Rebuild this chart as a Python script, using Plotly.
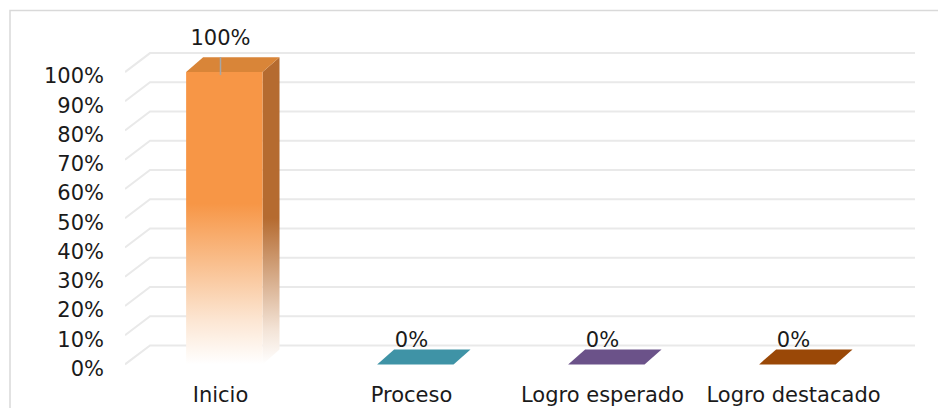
import plotly.graph_objects as go

# ---- data ----
categories = ["Inicio", "Proceso", "Logro esperado", "Logro destacado"]
values = [100, 0, 0, 0]
value_labels = ["100%", "0%", "0%", "0%"]
y_ticks = [0, 10, 20, 30, 40, 50, 60, 70, 80, 90, 100]
y_tick_labels = ["0%", "10%", "20%", "30%", "40%", "50%", "60%", "70%", "80%", "90%", "100%"]

# ---- styles ----
front_colors = ["#F79646", "#4096A9", "#6E548D", "#9C4A06"]
side_colors = ["#B56B30", "#2F7282", "#54406B", "#763804"]
top_colors = ["#D98538", "#3F93A6", "#6B5289", "#9A4807"]
FONT = "Verdana, DejaVu Sans, sans-serif"
TXT = "#1a1a1a"
FS = 21

X_MIN, X_MAX = -0.5, 3.636
Y_MIN, Y_MAX = -5, 112
GRID_DX, GRID_DY = 0.131, 6.5     # depth of back wall (axis units)
BAR_DX, BAR_DY = 0.089, 5.1       # depth of bars (axis units)
BAR_HW, BAR_OFF = 0.2, 0.02

fig = go.Figure()

# back-wall gridlines with a 3D diagonal at the left
for t in y_ticks:
    fig.add_trace(go.Scatter(
        x=[X_MIN, X_MIN + GRID_DX, X_MAX - 0.0001],
        y=[t, t + GRID_DY, t + GRID_DY],
        mode="lines", line=dict(color="#E9E9E9", width=2),
        hoverinfo="skip", showlegend=False))

# bars
for i, (c, v) in enumerate(zip(categories, values)):
    xl = i + BAR_OFF - BAR_HW
    xr = i + BAR_OFF + BAR_HW
    if v > 0:
        # side face
        fig.add_trace(go.Scatter(
            x=[xr, xr + BAR_DX, xr + BAR_DX, xr, xr],
            y=[0, BAR_DY, v + BAR_DY, v, 0],
            fill="toself", mode="lines", line=dict(width=0),
            fillgradient=dict(type="vertical", start=0, stop=v,
                              colorscale=[[0, "#FFFFFF"], [0.12, "#F3E3D6"],
                                          [0.5, side_colors[i]], [1, side_colors[i]]]),
            hoverinfo="skip", showlegend=False))
        # front face
        fig.add_trace(go.Scatter(
            x=[xl, xr, xr, xl, xl],
            y=[0, 0, v, v, 0],
            fill="toself", mode="lines", line=dict(width=0),
            fillgradient=dict(type="vertical", start=0, stop=v,
                              colorscale=[[0, "#FFFFFF"], [0.15, "#FCE6D3"],
                                          [0.35, "#F9BE8C"], [0.55, front_colors[i]],
                                          [1, front_colors[i]]]),
            hoverinfo="skip", showlegend=False))
    # top face
    fig.add_trace(go.Scatter(
        x=[xl, xr, xr + BAR_DX, xl + BAR_DX, xl],
        y=[v, v, v + BAR_DY, v + BAR_DY, v],
        fill="toself", mode="lines", line=dict(width=0),
        fillcolor=top_colors[i],
        hoverinfo="skip", showlegend=False))

# leader lines for nonzero labels
for i, v in enumerate(values):
    if v > 0:
        fig.add_trace(go.Scatter(
            x=[i, i], y=[v - 1, v + BAR_DY],
            mode="lines", line=dict(color="#A6A6A6", width=1.5),
            hoverinfo="skip", showlegend=False))

# data labels
fig.add_trace(go.Scatter(
    x=list(range(len(categories))),
    y=[v + 7.9 + 0.0305 * v for v in values],
    mode="text", text=value_labels, textposition="middle center",
    textfont=dict(family=FONT, size=FS, color=TXT), cliponaxis=False,
    hoverinfo="skip", showlegend=False))

fig.update_layout(
    width=938, height=408,
    margin=dict(l=125, r=23, t=37, b=29, autoexpand=False),
    paper_bgcolor="white", plot_bgcolor="white",
    showlegend=False,
    xaxis=dict(range=[X_MIN, X_MAX], tickmode="array", automargin=False,
               tickvals=list(range(len(categories))), ticktext=categories,
               showgrid=False, zeroline=False, showline=False, ticks="",
               tickfont=dict(family=FONT, size=FS, color=TXT),
               ticklabelstandoff=1, fixedrange=True),
    yaxis=dict(range=[Y_MIN, Y_MAX], tickmode="array", automargin=False,
               tickvals=y_ticks, ticktext=y_tick_labels,
               showgrid=False, zeroline=False, showline=False, ticks="",
               tickfont=dict(family=FONT, size=FS, color=TXT),
               ticklabelstandoff=20, ticklabelshift=4, fixedrange=True),
    shapes=[dict(type="rect", xref="paper", yref="paper",
                 x0=(10 - 125) / 790, x1=(945 - 125) / 790,
                 y0=(379 - 420) / 342, y1=(379 - 10.5) / 342,
                 line=dict(color="#D9D9D9", width=1.5), fillcolor="rgba(0,0,0,0)",
                 layer="below")],
)

fig.write_html("out.html")
